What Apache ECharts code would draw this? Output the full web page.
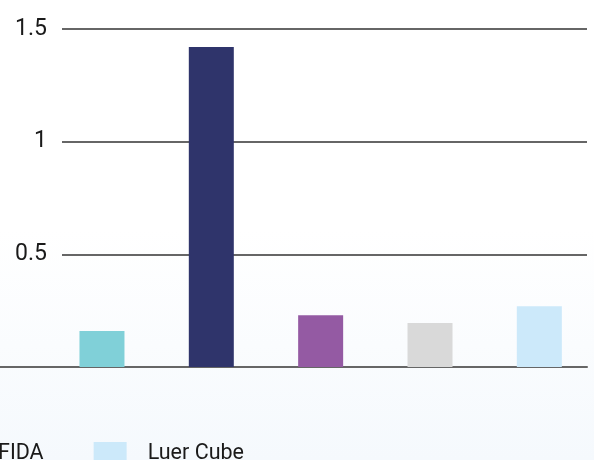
<!DOCTYPE html>
<html>
<head>
<meta charset="utf-8">
<script src="https://cdn.jsdelivr.net/npm/echarts@6/dist/echarts.min.js"></script>
<style>
html,body{margin:0;padding:0;background:#fff;}
#c{width:594px;height:460px;}
</style>
</head>
<body>
<div id="c"></div>
<script>
// ---- data ----
var categories = ['Series 1', 'Series 2', 'Series 3', 'FIDA', 'Luer Cube'];
var values = [0.16, 1.42, 0.23, 0.195, 0.27];
var legendItems = ['FIDA', 'Luer Cube'];
var yTicks = { min: 0, max: 1.5, interval: 0.5 };

// ---- styles ----
var palette = ['#80D0D8', '#2F346B', '#945AA3', '#D9D9D9', '#CCE9FA'];

var chart = echarts.init(document.getElementById('c'));

var series = categories.map(function (name, i) {
  return {
    name: name,
    type: 'bar',
    stack: 'all',
    xAxisIndex: 1,
    yAxisIndex: 1,
    barWidth: 45,
    itemStyle: { color: palette[i] },
    data: categories.map(function (c, j) { return j === i ? values[i] : '-'; })
  };
});

var hiddenY = function (idx) {
  return {
    gridIndex: idx, type: 'value', min: yTicks.min, max: yTicks.max, interval: yTicks.interval,
    axisLine: { show: false }, axisTick: { show: false }, axisLabel: { show: false }, splitLine: { show: false }
  };
};

chart.setOption({
  backgroundColor: new echarts.graphic.LinearGradient(0, 0, 0, 1, [
    { offset: 0, color: '#ffffff' },
    { offset: 0.5, color: '#ffffff' },
    { offset: 1, color: '#F5F9FD' }
  ]),
  textStyle: { fontFamily: 'Roboto' },
  animation: false,
  legend: {
    data: legendItems,
    left: -61,
    top: 437,
    itemWidth: 33,
    itemHeight: 24,
    itemGap: 50,
    icon: 'rect',
    textStyle: { fontSize: 21.5, color: '#1a1a1a', fontFamily: 'Roboto', padding: [0, 0, 0, 16] }
  },
  grid: [
    { left: 62, right: 7, top: 29, bottom: 93 },
    { left: 47.3, width: 551.5, top: 29, bottom: 93 },
    { left: 0, right: 7, top: 29, bottom: 93 }
  ],
  xAxis: [
    { gridIndex: 0, type: 'category', data: categories, show: false },
    { gridIndex: 1, type: 'category', data: categories,
      axisLine: { show: false }, axisTick: { show: false }, axisLabel: { show: false } },
    { gridIndex: 2, type: 'category', data: categories,
      axisLine: { show: true, lineStyle: { color: '#666', width: 2 } },
      axisTick: { show: false }, axisLabel: { show: false } }
  ],
  yAxis: [
    {
      gridIndex: 0, type: 'value', min: yTicks.min, max: yTicks.max, interval: yTicks.interval,
      axisLine: { show: false }, axisTick: { show: false },
      axisLabel: {
        fontSize: 23, color: '#1a1a1a', margin: 15, fontFamily: 'Roboto',
        formatter: function (v) { return v === 0 ? '' : String(v); }
      },
      splitLine: { show: true, lineStyle: { color: '#333', width: 1.5 } }
    },
    hiddenY(1),
    hiddenY(2)
  ],
  series: series
});
</script>
</body>
</html>
